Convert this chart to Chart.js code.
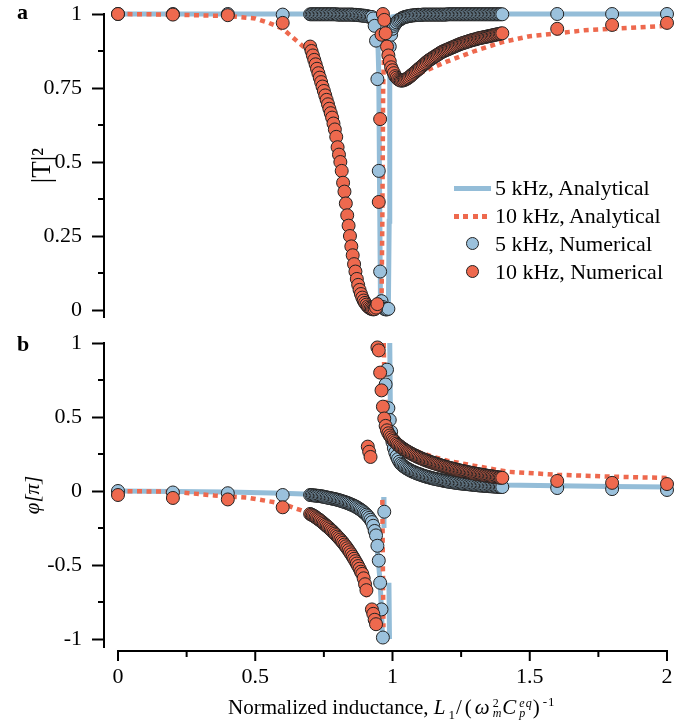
<!DOCTYPE html>
<html>
<head>
<meta charset="utf-8">
<script src="https://cdn.jsdelivr.net/npm/chart.js@4.4.1/dist/chart.umd.min.js"></script>
<style>
body { margin: 0; background: #fff; }
#wrap { position: relative; width: 697px; height: 724px; font-family: 'Liberation Serif', serif; color: #000; }
#boxA { position: absolute; left: 0; top: 0; width: 697px; height: 330px; }
#boxB { position: absolute; left: 0; top: 330px; width: 697px; height: 394px; }
.lbl { position: absolute; font-weight: bold; font-size: 22px; line-height: 22px; }
#legend { position: absolute; left: 450px; top: 174px; font-size: 22px; line-height: 28px; }
.row { display: flex; align-items: center; height: 28px; }
.sw { width: 45px; height: 28px; position: relative; }
.ln { position: absolute; left: 4px; top: 11.5px; width: 37px; height: 5px; background: #94bdd8; }
.dt { position: absolute; left: 4px; top: 12px; width: 38px; height: 4.5px;
      background: repeating-linear-gradient(to right, #ee694e 0 5px, transparent 5px 9.5px); }
.ci { position: absolute; left: 16px; top: 7px; width: 13px; height: 13px; border: 1px solid #222; border-radius: 50%; box-sizing: border-box; }
#xt { position: absolute; left: 228px; top: 690px; font-size: 21px; line-height: 24px; white-space: nowrap; }
#xt .m { font-size: 21px; letter-spacing: 3px; }
#xt sub, #xt sup { font-size: 13px; letter-spacing: 1px; }
#xt .ss { display: inline-flex; flex-direction: column; font-size: 12px; line-height: 10px; vertical-align: 7px; letter-spacing: 1px; }
</style>
</head>
<body>
<div id="wrap">
  <div id="boxA"><canvas id="chartA"></canvas></div>
  <div id="boxB"><canvas id="chartB"></canvas></div>
  <div class="lbl" style="left:17px;top:1px;">a</div>
  <div class="lbl" style="left:17px;top:333px;">b</div>
  <div id="legend">
    <div class="row"><div class="sw"><div class="ln"></div></div>5 kHz, Analytical</div>
    <div class="row"><div class="sw"><div class="dt"></div></div>10 kHz, Analytical</div>
    <div class="row"><div class="sw"><div class="ci" style="background:#9bc1dc"></div></div>5 kHz, Numerical</div>
    <div class="row"><div class="sw"><div class="ci" style="background:#ee694e"></div></div>10 kHz, Numerical</div>
  </div>
  <div id="xt">Normalized inductance, <span class="m"><i>L</i><sub>1</sub>/(<i>ω</i><span class="ss"><span>2</span><span><i>m</i></span></span><i>C</i><span class="ss"><span><i>eq</i></span><span><i>p</i></span></span>)<sup>-1</sup></span></div>
</div>
<script>
// numerical samples: normalized inductance
var lNum = [0, 0.2, 0.4, 0.6,
  0.70,0.705,0.71,0.715,0.72,0.725,0.73,0.735,0.74,0.745,
  0.75,0.755,0.76,0.765,0.77,0.775,0.78,0.785,0.79,0.795,
  0.80,0.805,0.81,0.815,0.82,0.825,0.83,0.835,0.84,0.845,
  0.85,0.855,0.86,0.865,0.87,0.875,0.88,0.885,0.89,0.895,
  0.90,0.905,0.91,0.915,0.92,0.925,0.93,0.935,0.94,0.945,
  0.95,0.955,0.96,0.965,0.97,0.975,0.98,0.985,0.99,0.995,
  1.00,1.005,1.01,1.015,1.02,1.025,1.03,1.035,1.04,1.045,
  1.05,1.055,1.06,1.065,1.07,1.075,1.08,1.085,1.09,1.095,
  1.10,1.105,1.11,1.115,1.12,1.125,1.13,1.135,1.14,1.145,
  1.15,1.155,1.16,1.165,1.17,1.175,1.18,1.185,1.19,1.195,
  1.20,1.205,1.21,1.215,1.22,1.225,1.23,1.235,1.24,1.245,
  1.25,1.255,1.26,1.265,1.27,1.275,1.28,1.285,1.29,1.295,
  1.30,1.305,1.31,1.315,1.32,1.325,1.33,1.335,1.34,1.345,
  1.35,1.355,1.36,1.365,1.37,1.375,1.38,1.385,1.39,1.395,
  1.40,
  1.6, 1.8, 2.0];

// |T|^2, 5 kHz numerical
var t5Num = [1, 1, 1, 0.998,
  0.999,0.999,0.999,0.999,0.999,0.999,0.999,0.999,0.999,0.999,
  0.999,0.999,0.999,0.999,0.999,0.999,0.999,0.999,0.999,0.999,
  0.998,0.998,0.998,0.998,0.998,0.998,0.998,0.998,0.998,0.998,
  0.998,0.998,0.997,0.997,0.997,0.996,0.996,0.995,0.995,0.994,
  0.994,0.993,0.992,0.991,0.99,0.99,0.985,0.96,0.91,0.78,
  0.47,0.13,0.03,0.01,0.004,0.002,0.002,0.004,0.89,0.93,
  0.95,0.96,0.967,0.972,0.977,0.98,0.983,0.986,0.988,0.99,
  0.991,0.992,0.993,0.994,0.995,0.995,0.996,0.996,0.997,0.997,
  0.997,0.997,0.998,0.998,0.998,0.998,0.998,0.998,0.998,0.998,
  0.998,0.998,0.998,0.998,0.998,0.998,0.998,0.998,0.998,0.998,
  0.999,0.999,0.999,0.999,0.999,0.999,0.999,0.999,0.999,0.999,
  0.999,0.999,0.999,0.999,0.999,0.999,0.999,0.999,0.999,0.999,
  0.999,0.999,0.999,0.999,0.999,0.999,0.999,0.999,0.999,0.999,
  0.999,0.999,0.999,0.999,0.999,0.999,0.999,0.999,0.999,0.999,
  0.999,
  1, 1, 1];

// |T|^2, 10 kHz numerical
var t10Num = [1, 0.998, 0.996, 0.97,
  0.89,0.875,0.86,0.845,0.83,0.815,0.80,0.785,0.77,0.755,
  0.74,0.725,0.71,0.695,0.68,0.665,0.65,0.63,0.61,0.585,
  0.55,0.525,0.50,0.47,0.43,0.40,0.36,0.32,0.285,0.25,
  0.215,0.185,0.155,0.13,0.105,0.085,0.068,0.054,0.042,0.032,
  0.024,0.018,0.012,0.008,0.005,0.003,0.002,0.003,0.008,0.02,
  0.365,0.645,0.93,1.0,0.98,0.935,0.89,0.86,0.84,0.82,
  0.81,0.80,0.79,0.785,0.78,0.777,0.775,0.775,0.776,0.778,
  0.78,0.783,0.786,0.79,0.794,0.798,0.802,0.806,0.81,0.814,
  0.818,0.822,0.826,0.83,0.834,0.838,0.842,0.845,0.848,0.851,
  0.854,0.857,0.86,0.863,0.866,0.869,0.872,0.874,0.876,0.878,
  0.88,0.882,0.884,0.886,0.888,0.89,0.892,0.894,0.896,0.898,
  0.90,0.901,0.903,0.904,0.906,0.907,0.909,0.91,0.912,0.913,
  0.914,0.915,0.917,0.918,0.919,0.92,0.921,0.922,0.923,0.924,
  0.925,0.926,0.927,0.928,0.929,0.93,0.931,0.932,0.933,0.934,
  0.935,
  0.95, 0.963, 0.97];

// phase [pi], 5 kHz numerical
var p5Num = [0.0, -0.01, -0.015, -0.027,
  -0.027,-0.028,-0.029,-0.03,-0.031,-0.032,-0.033,-0.034,-0.036,-0.037,
  -0.039,-0.041,-0.043,-0.045,-0.047,-0.049,-0.051,-0.053,-0.055,-0.057,
  -0.06,-0.062,-0.065,-0.068,-0.071,-0.074,-0.077,-0.08,-0.084,-0.088,
  -0.092,-0.096,-0.10,-0.105,-0.11,-0.116,-0.122,-0.128,-0.135,-0.143,
  -0.151,-0.16,-0.17,-0.182,-0.195,-0.21,-0.235,-0.27,-0.30,-0.37,
  -0.47,-0.62,-0.80,-0.99,-0.14,0.72,0.82,0.56,0.48,0.40,
  0.33,0.29,0.26,0.235,0.215,0.198,0.185,0.176,0.168,0.161,
  0.155,0.149,0.144,0.139,0.134,0.13,0.126,0.122,0.118,0.115,
  0.112,0.108,0.105,0.102,0.099,0.096,0.094,0.091,0.089,0.086,
  0.084,0.082,0.08,0.078,0.076,0.074,0.072,0.07,0.068,0.066,
  0.065,0.063,0.062,0.06,0.059,0.057,0.056,0.055,0.053,0.052,
  0.051,0.05,0.049,0.048,0.047,0.046,0.045,0.044,0.043,0.042,
  0.041,0.04,0.039,0.038,0.037,0.037,0.036,0.035,0.034,0.034,
  0.033,0.032,0.032,0.031,0.03,0.03,0.029,0.028,0.028,0.027,
  0.027,
  0.02, 0.013, 0.007];

// phase [pi], 10 kHz numerical
var p10Num = [-0.027, -0.047, -0.057, -0.11,
  -0.155,-0.16,-0.165,-0.17,-0.177,-0.184,-0.19,-0.197,-0.204,-0.212,
  -0.22,-0.228,-0.236,-0.244,-0.252,-0.261,-0.27,-0.279,-0.288,-0.298,
  -0.308,-0.318,-0.328,-0.339,-0.35,-0.362,-0.374,-0.387,-0.40,-0.414,
  -0.428,-0.443,-0.458,-0.474,-0.49,-0.507,-0.525,-0.545,-0.56,-0.59,
  -0.63,-0.67,0.30,0.265,0.23,-0.80,-0.83,-0.87,-0.90,0.97,
  0.95,0.80,0.68,0.57,0.49,0.44,0.41,0.39,0.375,0.362,
  0.35,0.34,0.33,0.32,0.312,0.304,0.297,0.29,0.284,0.278,
  0.272,0.266,0.261,0.256,0.251,0.246,0.241,0.237,0.232,0.228,
  0.224,0.22,0.216,0.212,0.209,0.205,0.202,0.198,0.195,0.192,
  0.189,0.186,0.183,0.18,0.177,0.174,0.171,0.168,0.166,0.163,
  0.16,0.158,0.155,0.153,0.15,0.148,0.146,0.143,0.141,0.139,
  0.137,0.135,0.133,0.131,0.129,0.127,0.125,0.123,0.121,0.119,
  0.118,0.116,0.114,0.113,0.111,0.109,0.108,0.106,0.105,0.103,
  0.102,0.1,0.099,0.098,0.096,0.095,0.094,0.092,0.091,0.09,
  0.089,
  0.068, 0.055, 0.047];

// analytical curves (null = break in the curve)
var lT5 = [0,0.2,0.4,0.6,0.8,0.9,0.93,0.94,0.945,0.95,0.953,0.956,0.96,0.97,0.98,0.985,0.988,0.99,0.993,1.0,1.05,1.2,1.4,1.6,1.8,2.0];
var t5Ana = [1,1,1,1,1,0.998,0.995,0.985,0.96,0.8,0.4,0.05,0.01,0,0,0.01,0.3,0.85,0.96,0.99,1,1,1,1,1,1];

var lT10 = [0,0.2,0.4,0.5,0.55,0.6,0.65,0.7,0.75,0.8,0.85,0.88,0.9,0.92,0.95,0.96,0.963,0.966,0.97,0.98,0.99,1.0,1.02,1.05,1.1,1.2,1.3,1.4,1.5,1.6,1.7,1.8,1.9,2.0];
var t10Ana = [1,0.998,0.993,0.985,0.97,0.95,0.91,0.87,0.75,0.56,0.24,0.07,0.025,0.005,0,0.02,0.3,0.75,0.9,0.86,0.82,0.79,0.775,0.775,0.80,0.84,0.875,0.905,0.925,0.935,0.945,0.95,0.955,0.96];

var lP5 = [0,0.2,0.4,0.6,0.7,0.78,0.84,0.89,0.918,0.936,0.948,0.955,0.96,0.964,0.966,0.968,0.969,0.975,0.987,0.989,0.9895,0.99,0.992,0.995,1.0,1.01,1.02,1.05,1.1,1.2,1.3,1.4,1.6,1.8,2.0];
var p5Ana = [0,-0.003,-0.007,-0.015,-0.022,-0.045,-0.078,-0.128,-0.19,-0.28,-0.46,-0.62,-0.82,-1.0,null,-0.04,-0.25,null,-0.62,-1.0,null,1.0,0.6,0.45,0.33,0.26,0.21,0.15,0.1,0.065,0.05,0.04,0.035,0.03,0.027];

var lP10 = [0,0.2,0.35,0.47,0.6,0.65,0.7,0.75,0.8,0.85,0.88,0.9,0.91,0.911,0.912,0.918,0.919,0.963,0.965,0.967,0.9675,0.968,0.97,0.975,0.98,0.99,1.0,1.02,1.05,1.1,1.15,1.2,1.3,1.42,1.6,1.8,2.0];
var p10Ana = [0,-0.005,-0.03,-0.045,-0.085,-0.12,-0.15,-0.22,-0.31,-0.43,-0.52,-0.62,-0.72,null,0.3,0.36,null,-0.06,-0.5,-0.92,null,1.0,0.8,0.6,0.5,0.42,0.37,0.33,0.30,0.26,0.23,0.205,0.17,0.13,0.11,0.097,0.088];

// axis ticks
var xTicks = [0, 0.5, 1, 1.5, 2];
var xMinor = [0.25, 0.75, 1.25, 1.75];
var yTicksA = [0, 0.25, 0.5, 0.75, 1];
var yMinorA = [0.125, 0.375, 0.625, 0.875];
var yTicksB = [-1, -0.5, 0, 0.5, 1];
var yMinorB = [-0.75, -0.25, 0.25, 0.75];

var BLUE = '#9bc1dc', BLUE_LINE = '#94bdd8', RED = '#ee694e';

Chart.defaults.font.family = "'Liberation Serif', serif";
Chart.defaults.color = '#000';

function pts(xs, ys) {
  return xs.map(function (x, i) { return {x: x, y: ys[i]}; });
}

function numSet(ys, color) {
  return {data: pts(lNum, ys), showLine: false, pointRadius: 6.5, pointBorderWidth: 1,
    pointBorderColor: '#222', pointBackgroundColor: color, clip: false};
}

function anaSet(xs, ys, color, dotted) {
  return {data: pts(xs, ys), showLine: true, pointRadius: 0, borderColor: color,
    borderWidth: dotted ? 4.5 : 5, borderDash: dotted ? [5, 4.5] : [],
    borderCapStyle: 'butt', spanGaps: false, tension: 0, clip: false};
}

// minor ticks and the detached x axis line
var axisExtras = {
  id: 'axisExtras',
  afterDraw: function (chart, args, o) {
    var ctx = chart.ctx, a = chart.chartArea, xs = chart.scales.x, ys = chart.scales.y;
    ctx.save();
    ctx.strokeStyle = '#000';
    ctx.lineWidth = 2;
    o.yMinor.forEach(function (v) {
      var py = ys.getPixelForValue(v);
      ctx.beginPath(); ctx.moveTo(a.left - 6, py); ctx.lineTo(a.left, py); ctx.stroke();
    });
    if (o.xAxis) {
      var y0 = a.bottom + 4;
      ctx.beginPath();
      ctx.moveTo(xs.getPixelForValue(xTicks[0]) - 1, y0);
      ctx.lineTo(xs.getPixelForValue(xTicks[xTicks.length - 1]) + 1, y0);
      ctx.stroke();
      xTicks.forEach(function (v) {
        var px = xs.getPixelForValue(v);
        ctx.beginPath(); ctx.moveTo(px, y0); ctx.lineTo(px, y0 + 10); ctx.stroke();
      });
      xMinor.forEach(function (v) {
        var px = xs.getPixelForValue(v);
        ctx.beginPath(); ctx.moveTo(px, y0); ctx.lineTo(px, y0 + 6); ctx.stroke();
      });
    }
    ctx.restore();
  }
};

function yScale(min, ticks, title, italic, size, pad) {
  return {
    type: 'linear', min: min, max: 1,
    afterBuildTicks: function (s) { s.ticks = ticks.map(function (v) { return {value: v}; }); },
    afterFit: function (s) { s.width = 104; s.paddingTop = 0; s.paddingBottom = 0; },
    border: {display: true, width: 2, color: '#000'},
    grid: {drawOnChartArea: false, tickLength: 12, tickWidth: 2, tickColor: '#000'},
    ticks: {padding: 10, font: {size: 22}, color: '#000', callback: function (v) { return String(v); }},
    title: {display: true, text: title, color: '#000', padding: {top: pad, bottom: 0},
      font: {size: size, style: italic ? 'italic' : 'normal'}}
  };
}

function makeChart(id, sets, y, showX, minor) {
  var x = {type: 'linear', min: -0.051, max: 2, display: false};
  if (showX) {
    x = {
      type: 'linear', min: -0.051, max: 2,
      afterBuildTicks: function (s) { s.ticks = xTicks.map(function (v) { return {value: v}; }); },
      afterFit: function (s) { s.height = 77; s.paddingLeft = 0; s.paddingRight = 0; },
      border: {display: false},
      grid: {display: false, drawTicks: false},
      ticks: {padding: 17, font: {size: 22}, color: '#000', maxRotation: 0, autoSkip: false,
        callback: function (v) { return String(v); }}
    };
  }
  return new Chart(document.getElementById(id), {
    type: 'scatter',
    data: {datasets: sets},
    options: {
      responsive: true, maintainAspectRatio: false, animation: false, devicePixelRatio: 1,
      events: [],
      layout: {padding: {top: showX ? 13 : 14, right: 30, bottom: showX ? 0 : 13, left: 0}},
      scales: {x: x, y: y},
      plugins: {legend: {display: false}, tooltip: {enabled: false},
        axisExtras: {yMinor: minor, xAxis: showX}}
    },
    plugins: [axisExtras]
  });
}

makeChart('chartA', [
  numSet(t10Num, RED),
  numSet(t5Num, BLUE),
  anaSet(lT10, t10Ana, RED, true),
  anaSet(lT5, t5Ana, BLUE_LINE, false)
], yScale(-0.0236, yTicksA, '|T|²', false, 27, 27), false, yMinorA);

makeChart('chartB', [
  numSet(p10Num, RED),
  numSet(p5Num, BLUE),
  anaSet(lP10, p10Ana, RED, true),
  anaSet(lP5, p5Ana, BLUE_LINE, false)
], yScale(-1.054, yTicksB, 'φ[π]', true, 21, 21), true, yMinorB);
</script>
</body>
</html>
